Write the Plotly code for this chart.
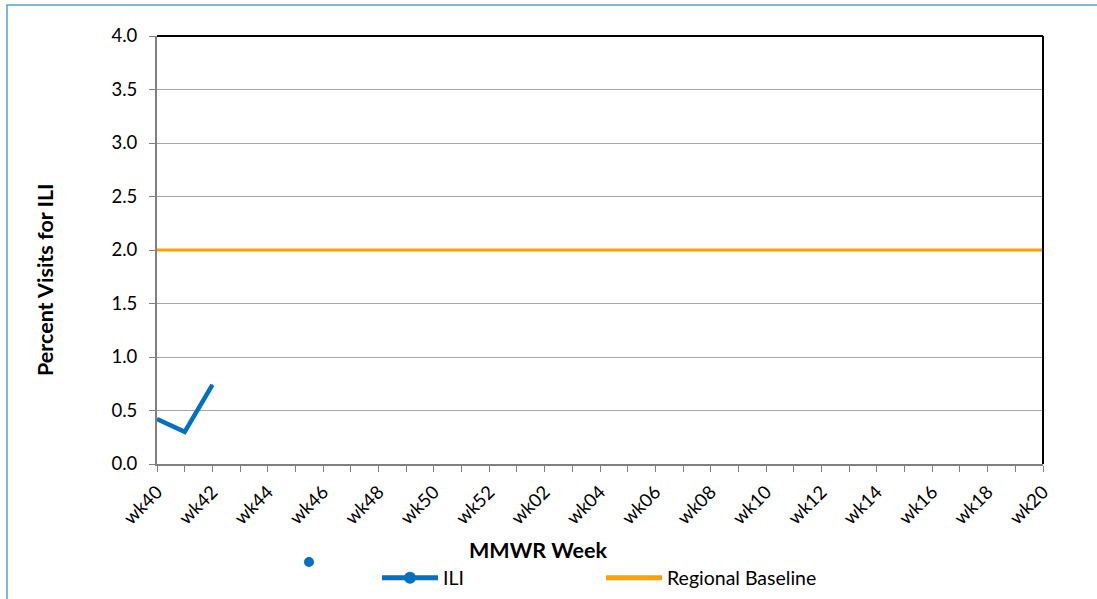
import plotly.graph_objects as go

weeks = [f"wk{w}" for w in range(40, 53)] + [f"wk{w:02d}" for w in range(1, 21)]
ili_weeks = ["wk40", "wk41", "wk42"]
ili_values = [0.42, 0.30, 0.74]
baseline_value = 2.0
baseline_values = [baseline_value] * len(weeks)
tick_labels = [w if i % 2 == 0 else "" for i, w in enumerate(weeks)]

FONT = "Lato"
W, H = 1097, 599
L, T = 157, 36
R = W - 1043
B = H - 464
pw, ph = W - L - R, H - T - B

def px(x):
    return (x - L) / pw

def py(y):
    return (H - B - y) / ph

fig = go.Figure()
fig.add_trace(go.Scatter(
    x=ili_weeks, y=ili_values, name="ILI", mode="lines+markers",
    line=dict(color="#0070C0", width=4.5),
    marker=dict(color="#0070C0", size=1),
))
fig.add_trace(go.Scatter(
    x=weeks, y=baseline_values, name="Regional Baseline", mode="lines",
    line=dict(color="#FFA000", width=3),
))

fig.update_layout(
    width=W, height=H,
    margin=dict(l=L, r=R, t=T, b=B, autoexpand=False),
    paper_bgcolor="white", plot_bgcolor="white",
    font=dict(family=FONT, size=18, color="black"),
    showlegend=True,
    legend=dict(
        orientation="h", xref="container", yref="container",
        x=377 / W, y=1 - 578 / H, xanchor="left", yanchor="middle",
        font=dict(family=FONT, size=19.5), entrywidth=153, entrywidthmode="pixels",
        itemwidth=56, itemsizing="constant", bgcolor="rgba(0,0,0,0)",
    ),
    xaxis=dict(
        type="category", categoryorder="array", categoryarray=weeks,
        range=[0, len(weeks) - 1], automargin=False,
        tickmode="array", tickvals=weeks, ticktext=tick_labels,
        tickangle=-45, ticks="outside", ticklen=6, tickcolor="#808080",
        showline=True, linecolor="#808080", linewidth=2,
        showgrid=False, zeroline=False, tickfont=dict(size=18.5),
        ticklabelstandoff=2,
    ),
    yaxis=dict(
        range=[0, 4.0], dtick=0.5, tickformat=".1f", automargin=False,
        ticks="outside", ticklen=6, tickcolor="#808080",
        showline=True, linecolor="#808080", linewidth=2,
        showgrid=True, gridcolor="#A6A6A6", gridwidth=1.3,
        zeroline=False, tickfont=dict(size=18.5), ticklabelstandoff=8,
    ),
    shapes=[
        dict(type="line", xref="paper", yref="paper", x0=0, x1=1, y0=1, y1=1,
             line=dict(color="black", width=2)),
        dict(type="line", xref="paper", yref="paper", x0=1, x1=1, y0=0, y1=1,
             line=dict(color="black", width=2)),
        dict(type="rect", xref="paper", yref="paper", x0=px(7), x1=px(1110),
             y0=py(620), y1=py(5), line=dict(color="#5B9BD5", width=1.5),
             layer="below"),
        dict(type="circle", xref="paper", yref="paper",
             x0=px(304), x1=px(314), y0=py(567), y1=py(557),
             fillcolor="#0070C0", line=dict(width=0)),
    ],
    annotations=[
        dict(text="<b>MMWR Week</b>", xref="paper", yref="paper", x=px(538), y=py(550),
             xanchor="center", yanchor="middle", showarrow=False,
             font=dict(family=FONT, size=21.5)),
        dict(text="<b>Percent Visits for ILI</b>", xref="paper", yref="paper",
             x=px(45), y=py(280), xanchor="center", yanchor="middle",
             textangle=-90, showarrow=False, font=dict(family=FONT, size=21.5)),
    ],
)

fig.write_html("out.html", config={"displayModeBar": False},
               post_script="document.body.style.margin='0';")
